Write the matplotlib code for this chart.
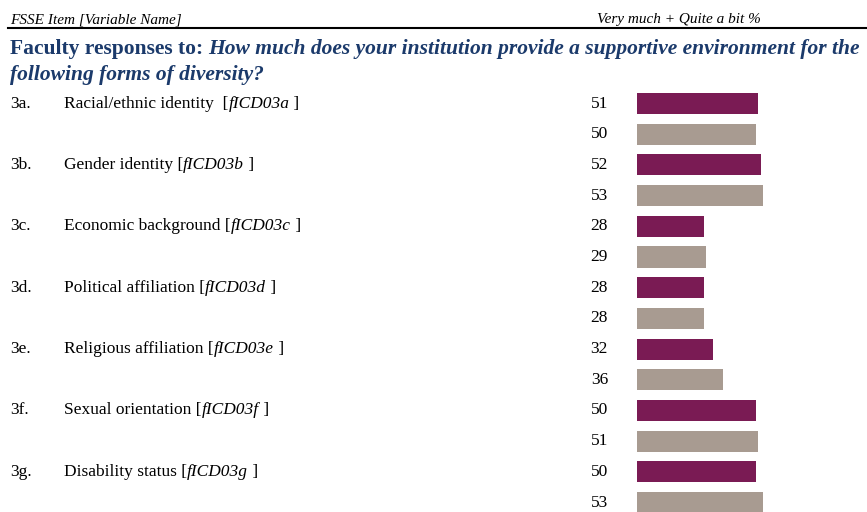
import numpy as np
import matplotlib.pyplot as plt

# item codes, labels and variable names
codes = ["3a.", "3b.", "3c.", "3d.", "3e.", "3f.", "3g."]
labels = ["Racial/ethnic identity  ", "Gender identity ", "Economic background ",
          "Political affiliation ", "Religious affiliation ", "Sexual orientation ",
          "Disability status "]
varnames = ["fICD03a", "fICD03b", "fICD03c", "fICD03d", "fICD03e", "fICD03f", "fICD03g"]

# Very much + Quite a bit %: first row institution, second row comparison
inst_vals = [51, 52, 28, 28, 32, 50, 50]
comp_vals = [50, 53, 29, 28, 36, 51, 53]

purple = "#7A1B54"
gray = "#A89B91"
navy = "#1B3A6B"
W, H = 867, 512

plt.rcParams['font.family'] = ['Liberation Serif', 'DejaVu Serif']

fig = plt.figure(figsize=(W / 100, H / 100), dpi=100)

# pixel-space axes for text
tax = fig.add_axes([0, 0, 1, 1])
tax.set_xlim(0, W)
tax.set_ylim(H, 0)
tax.axis("off")

tax.text(10, 23, "FSSE Item [Variable Name]", fontsize=11, style="italic",
         ha="left", va="baseline")
tax.text(597, 23, "Very much + Quite a bit %", fontsize=11, style="italic",
         ha="left", va="baseline")
tax.plot([8, W], [28, 28], color="black", lw=1.5)

t1 = tax.text(10, 54, "Faculty responses to: ", fontsize=15.5, fontweight="bold",
              color=navy, ha="left", va="baseline")
tax.annotate("How much does your institution provide a supportive environment for the",
             xy=(1, 0), xycoords=t1, ha="left", va="bottom", fontsize=15.5,
             fontweight="bold", style="italic", color=navy)
tax.text(10, 80, "following forms of diversity?", fontsize=15.5, fontweight="bold",
         style="italic", color=navy, ha="left", va="baseline")

# row positions in pixels
row0, step = 103.5, 30.7
n_rows = 2 * len(codes)

# bar axes: rows as y units, percent as x units
px_per_unit = 2.38
bx0 = 637
bax = fig.add_axes([bx0 / W, 0, (W - bx0) / W, 1])
bax.set_xlim(0, (W - bx0) / px_per_unit)
bax.set_ylim((H - row0) / step, -row0 / step)
bax.axis("off")

vals = []
for a, b in zip(inst_vals, comp_vals):
    vals += [a, b]
colors = [purple, gray] * len(codes)
ypos = np.arange(n_rows)
bax.barh(ypos, vals, height=0.69, color=colors, left=0)

for i, v in enumerate(vals):
    y = row0 + step * i
    tax.text(608, y, str(v), fontsize=12.5, ha="right", va="center")

for k, (c, lab, vn) in enumerate(zip(codes, labels, varnames)):
    y = row0 + step * 2 * k
    tax.text(10, y, c, fontsize=12.5, ha="left", va="center")
    t = tax.text(64, y, lab + "[", fontsize=12.5, ha="left", va="center")
    t2 = tax.annotate(vn, xy=(1, 0), xycoords=t, ha="left", va="bottom",
                      fontsize=12.5, style="italic")
    tax.annotate(" ]", xy=(1, 0), xycoords=t2, ha="left", va="bottom", fontsize=12.5)

fig.savefig("out.png", dpi=100)
